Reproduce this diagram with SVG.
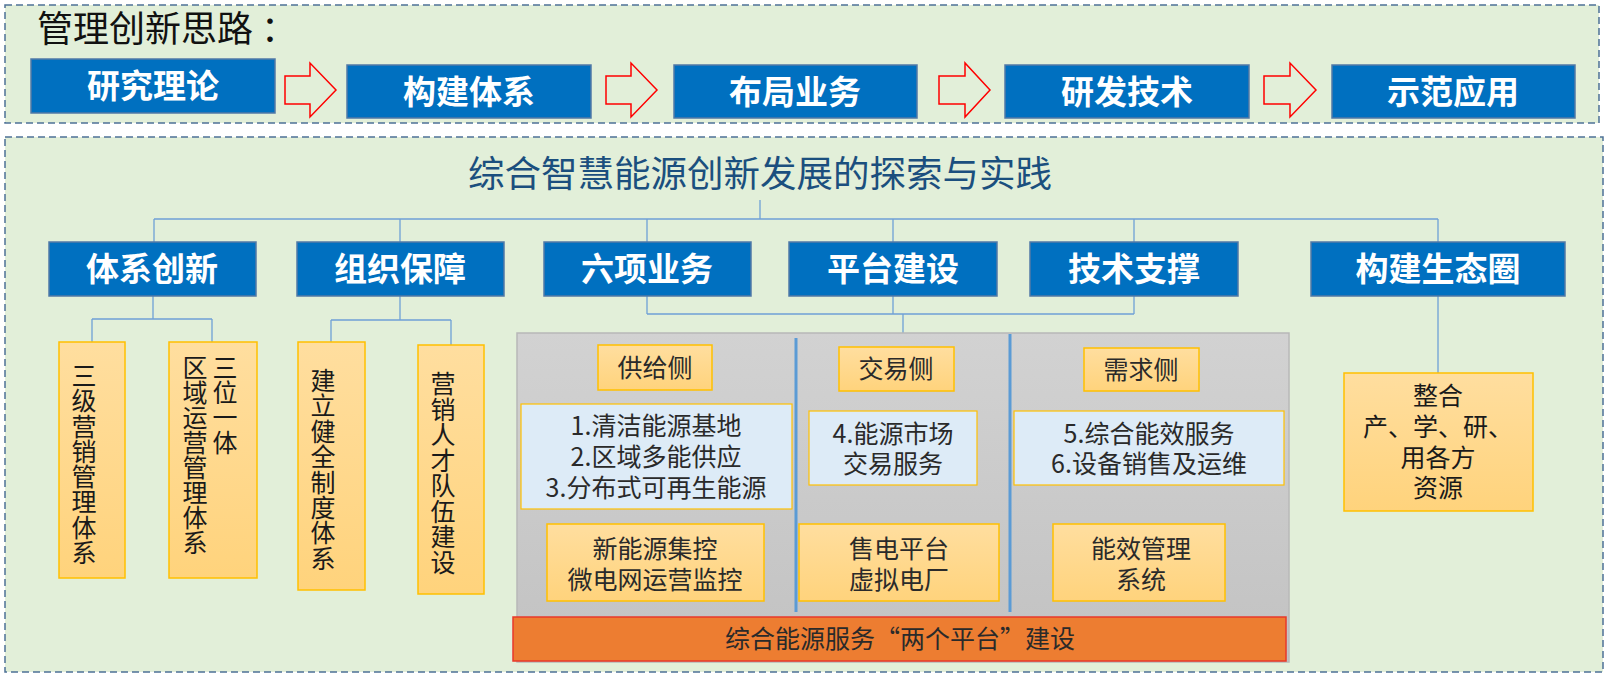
<svg xmlns="http://www.w3.org/2000/svg" width="1608" height="674" viewBox="0 0 1608 674">
<defs>
<linearGradient id="yg" x1="0" y1="0" x2="0" y2="1">
<stop offset="0" stop-color="#FFDE9F"/>
<stop offset="1" stop-color="#FFD37C"/>
</linearGradient>
<linearGradient id="gg" x1="0" y1="0" x2="0" y2="1">
<stop offset="0" stop-color="#D2D2D2"/>
<stop offset="1" stop-color="#C2C2C2"/>
</linearGradient>
</defs>
<style>
.panel{fill:#E2EFD9;stroke:#4E7196;stroke-width:1.5;stroke-dasharray:7 4}
.bbox{fill:#0070C0;stroke:#5279A6;stroke-width:1.5}
.btxt{font-family:"Noto Sans CJK SC",sans-serif;font-weight:700;font-size:33px;fill:#FFFFFF;text-anchor:middle}
.ybox{fill:url(#yg);stroke:#FFC000;stroke-width:1.5}
.lbox{fill:#DDEBF7;stroke:#FFC000;stroke-width:1.2}
.t{font-family:"Noto Sans CJK SC",sans-serif;font-size:25px;fill:#1A1A1A;text-anchor:middle}
.vt{font-family:"Noto Sans CJK SC",sans-serif;font-size:25px;fill:#1A1A1A;writing-mode:vertical-rl;text-orientation:upright}
.tg{font-family:"Noto Sans CJK SC",sans-serif;font-size:25px;fill:#2A2A2A;text-anchor:middle}
.arrow{fill:none;stroke:#FF0000;stroke-width:1.5}
.conn{fill:none;stroke:#6FA0D6;stroke-width:1.3}
.div{stroke:#5B9BD5;stroke-width:3}
</style>
<rect width="1608" height="674" fill="#FFFFFF"/>

<g id="top-panel">
<rect class="panel" x="5" y="5" width="1594" height="118"/>
<text x="37" y="42" font-family="'Noto Sans CJK SC',sans-serif" font-size="36" fill="#111111">管理创新思路<tspan dx="8">：</tspan></text>
</g>

<g id="step1"><rect class="bbox" x="31" y="59" width="244" height="54"/><text class="btxt" x="153" y="98">研究理论</text></g>
<g id="step2"><rect class="bbox" x="347" y="65" width="244" height="53"/><text class="btxt" x="469" y="104">构建体系</text></g>
<g id="step3"><rect class="bbox" x="674" y="65" width="243" height="53"/><text class="btxt" x="795" y="104">布局业务</text></g>
<g id="step4"><rect class="bbox" x="1005" y="65" width="244" height="53"/><text class="btxt" x="1127" y="104">研发技术</text></g>
<g id="step5"><rect class="bbox" x="1332" y="65" width="243" height="53"/><text class="btxt" x="1453" y="104">示范应用</text></g>

<g id="flow-arrows">
<polygon class="arrow" points="285,76 310,76 310,63 336,90 310,117 310,104 285,104"/>
<polygon class="arrow" points="606,76 631,76 631,63 657,90 631,117 631,104 606,104"/>
<polygon class="arrow" points="939,76 965,76 965,63 990,90 965,117 965,104 939,104"/>
<polygon class="arrow" points="1264,76 1290,76 1290,63 1316,90 1290,117 1290,104 1264,104"/>
</g>

<g id="bottom-panel">
<rect class="panel" x="5" y="137" width="1598" height="535"/>
</g>

<g id="title"><text x="760" y="187" font-family="'Noto Sans CJK SC',sans-serif" font-size="36.5" fill="#1B4F7E" text-anchor="middle">综合智慧能源创新发展的探索与实践</text></g>

<g id="connectors">
<path class="conn" d="M760,200V219M154,219H1438M154,219V242M400,219V242M647,219V242M893,219V242M1134,219V242M1438,219V242"/>
<path class="conn" d="M153,296V319M92,319H212M92,319V342M212,319V342"/>
<path class="conn" d="M400,296V320M331,320H451M331,320V342M451,320V345"/>
<path class="conn" d="M647,296V314M893,296V314M1134,296V314M647,314H1134M903,314V333"/>
<path class="conn" d="M1438,296V373"/>
</g>

<g id="n-tixi"><rect class="bbox" x="49" y="242" width="207" height="54"/><text class="btxt" x="152" y="281">体系创新</text></g>
<g id="n-zuzhi"><rect class="bbox" x="297" y="242" width="207" height="54"/><text class="btxt" x="400" y="281">组织保障</text></g>
<g id="n-liuxiang"><rect class="bbox" x="544" y="242" width="207" height="54"/><text class="btxt" x="647" y="281">六项业务</text></g>
<g id="n-pingtai"><rect class="bbox" x="789" y="242" width="208" height="54"/><text class="btxt" x="893" y="281">平台建设</text></g>
<g id="n-jishu"><rect class="bbox" x="1030" y="242" width="208" height="54"/><text class="btxt" x="1134" y="281">技术支撑</text></g>
<g id="n-shengtai"><rect class="bbox" x="1311" y="242" width="254" height="54"/><text class="btxt" x="1438" y="281">构建生态圈</text></g>

<g id="v-sanji"><rect class="ybox" x="59" y="342" width="66" height="236"/>
<text class="vt" x="84" y="363" letter-spacing="0.3">三级营销管理体系</text></g>

<g id="v-sanwei"><rect class="ybox" x="169" y="342" width="88" height="236"/>
<text class="vt" x="225" y="355">三位一体</text>
<text class="vt" x="195" y="355">区域运营管理体系</text></g>

<g id="v-zhidu"><rect class="ybox" x="298" y="342" width="67" height="248"/>
<text class="vt" x="323" y="368" letter-spacing="0.4">建立健全制度体系</text></g>

<g id="v-rencai"><rect class="ybox" x="418" y="345" width="66" height="249"/>
<text class="vt" x="443" y="371" letter-spacing="0.5">营销人才队伍建设</text></g>

<g id="business-panel">
<rect x="517" y="333" width="772" height="329" fill="url(#gg)" stroke="#B8B8B8" stroke-width="1.5"/>
<line class="div" x1="796" y1="338" x2="796" y2="612"/>
<line class="div" x1="1010" y1="334" x2="1010" y2="612"/>
</g>

<g id="h-gongji"><rect class="ybox" x="598" y="345" width="114" height="45"/><text class="tg" x="655" y="377" font-size="26">供给侧</text></g>
<g id="h-jiaoyi"><rect class="ybox" x="839" y="347" width="115" height="44"/><text class="tg" x="896" y="378" font-size="26">交易侧</text></g>
<g id="h-xuqiu"><rect class="ybox" x="1084" y="348" width="115" height="43"/><text class="tg" x="1141" y="379" font-size="26">需求侧</text></g>

<g id="b-supply"><rect class="lbox" x="521" y="404" width="271" height="105"/>
<text class="tg" x="656" y="435">1.清洁能源基地</text><text class="tg" x="656" y="466">2.区域多能供应</text><text class="tg" x="656" y="497">3.分布式可再生能源</text></g>
<g id="b-trade"><rect class="lbox" x="809" y="411" width="168" height="74"/>
<text class="tg" x="893" y="443">4.能源市场</text><text class="tg" x="893" y="473">交易服务</text></g>
<g id="b-demand"><rect class="lbox" x="1014" y="411" width="270" height="74"/>
<text class="tg" x="1149" y="443">5.综合能效服务</text><text class="tg" x="1149" y="473">6.设备销售及运维</text></g>

<g id="p-jikong"><rect class="ybox" x="547" y="524" width="217" height="77"/>
<text class="tg" x="655" y="558">新能源集控</text><text class="tg" x="655" y="589">微电网运营监控</text></g>
<g id="p-shoudian"><rect class="ybox" x="799" y="524" width="200" height="77"/>
<text class="tg" x="899" y="558">售电平台</text><text class="tg" x="899" y="589">虚拟电厂</text></g>
<g id="p-nengxiao"><rect class="ybox" x="1053" y="524" width="172" height="77"/>
<text class="tg" x="1141" y="558">能效管理</text><text class="tg" x="1141" y="589">系统</text></g>

<g id="platform-bar"><rect x="513" y="617" width="773" height="44" fill="#ED7D31" stroke="#E8392A" stroke-width="1.5"/>
<text class="tg" x="900" y="648" font-size="25.5" fill="#333333">综合能源服务“两个平台”建设</text></g>

<g id="b-zhenghe"><rect class="ybox" x="1344" y="373" width="189" height="138"/>
<text class="t" x="1438" y="405">整合</text><text class="t" x="1438" y="436">产、学、研、</text><text class="t" x="1438" y="467">用各方</text><text class="t" x="1438" y="497">资源</text></g>
</svg>
